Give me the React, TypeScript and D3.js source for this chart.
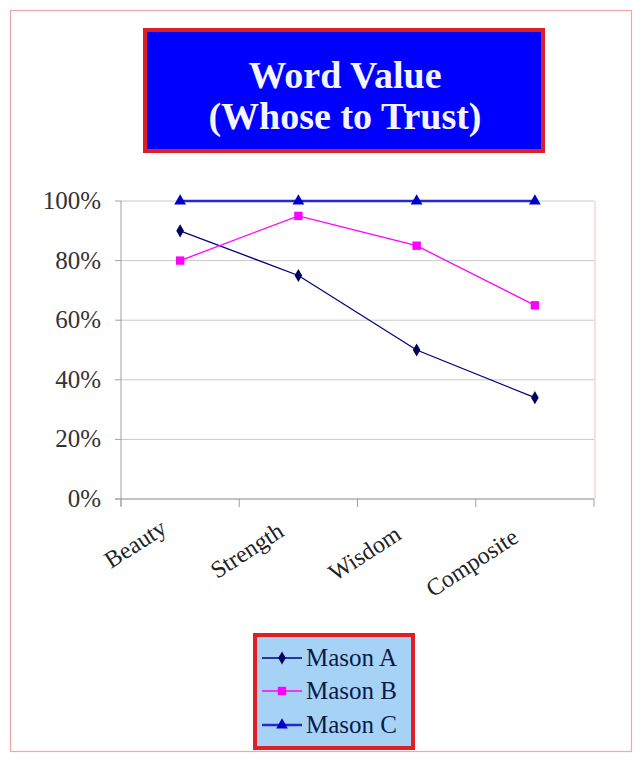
import React from "react";
import * as d3 from "d3";

const categories = ["Beauty", "Strength", "Wisdom", "Composite"];
const masonA = [0.9, 0.75, 0.5, 0.34];
const masonB = [0.8, 0.95, 0.85, 0.65];
const masonC = [1.0, 1.0, 1.0, 1.0];
const seriesNames = ["Mason A", "Mason B", "Mason C"];
const yTicks = [0, 0.2, 0.4, 0.6, 0.8, 1.0];

const W = 642;
const H = 761;
const FONT = "'Liberation Serif', 'Times New Roman', serif";

export default function App() {
  const x = d3.scaleBand<string>().domain(categories).range([121, 594]);
  const y = d3.scaleLinear().domain([0, 1]).range([499, 201]);
  const cx = (c: string) => (x(c) as number) + x.bandwidth() / 2;

  const series = [
    { name: seriesNames[0], values: masonA, color: "#000080", marker: "diamond", width: 1.3 },
    { name: seriesNames[1], values: masonB, color: "#ff00ff", marker: "square", width: 1.3 },
    { name: seriesNames[2], values: masonC, color: "#2828d0", marker: "triangle", width: 2.4 },
  ];
  const markerColor: Record<string, string> = {
    diamond: "#000060",
    square: "#ff00ff",
    triangle: "#0000cc",
  };
  const symbolType: Record<string, d3.SymbolType> = {
    diamond: d3.symbolDiamond,
    square: d3.symbolSquare,
    triangle: d3.symbolTriangle,
  };
  const symbolSize: Record<string, number> = { diamond: 50, square: 70, triangle: 60 };

  const line = d3
    .line<number>()
    .x((_, i) => cx(categories[i]))
    .y((d) => y(d));

  const fmt = d3.format(".0%");
  const ticksX = [...categories.map((c) => x(c) as number), 594];
  const legendY = [658, 691, 725];

  return (
    <svg
      width={W}
      height={H}
      style={{ position: "absolute", left: 0, top: 0, background: "#fff" }}
      fontFamily={FONT}
    >
      <rect x={0} y={0} width={W} height={H} fill="#ffffff" />
      <rect x={10.5} y={10.5} width={621} height={741} fill="none" stroke="#f2a6a6" strokeWidth={1.2} />

      {/* Title */}
      <rect x={145} y={30} width={398} height={121} fill="#0000ff" stroke="#e01e26" strokeWidth={4} />
      <text x={345} y={88} textAnchor="middle" fill="#f4f4ff" fontSize={38} fontWeight="bold">
        Word Value
      </text>
      <text x={345} y={129} textAnchor="middle" fill="#f4f4ff" fontSize={38} fontWeight="bold">
        (Whose to Trust)
      </text>

      {/* gridlines */}
      {yTicks.map((t) => (
        <line key={t} x1={121} x2={594} y1={y(t)} y2={y(t)} stroke="#c8c8c8" strokeWidth={1} />
      ))}
      <line x1={595} x2={595} y1={201} y2={499} stroke="#f4c0c0" strokeWidth={1} />
      {/* y axis */}
      <line x1={121} x2={121} y1={201} y2={506} stroke="#a0a0a0" strokeWidth={1} />
      {yTicks.map((t) => (
        <g key={"yt" + t}>
          <line x1={115} x2={121} y1={y(t)} y2={y(t)} stroke="#a0a0a0" />
          <text x={101} y={y(t) + 8} textAnchor="end" fontSize={25} fill="#333">
            {fmt(t)}
          </text>
        </g>
      ))}
      {/* x axis */}
      <line x1={115} x2={594} y1={499} y2={499} stroke="#a0a0a0" strokeWidth={1} />
      {ticksX.map((t, i) => (
        <line key={"xt" + i} x1={t} x2={t} y1={499} y2={507} stroke="#a0a0a0" />
      ))}
      {categories.map((c, i) => (
        <text
          key={c}
          transform={`translate(${cx(c) - 12 - i},${532 + i * 3}) rotate(-33)`}
          textAnchor="end"
          fontSize={24}
          fill="#222"
        >
          {c}
        </text>
      ))}

      {/* series */}
      {series.map((s) => (
        <g key={s.name}>
          <path d={line(s.values) as string} fill="none" stroke={s.color} strokeWidth={s.width} />
          {s.values.map((v, i) => (
            <path
              key={i}
              d={d3.symbol().type(symbolType[s.marker]).size(symbolSize[s.marker])() as string}
              transform={`translate(${cx(categories[i])},${y(v)})`}
              fill={markerColor[s.marker]}
            />
          ))}
        </g>
      ))}

      {/* legend */}
      <rect x={255} y={635} width={158} height={113} fill="#a6d2f6" stroke="#e01e26" strokeWidth={4} />
      {series.map((s, i) => {
        const ly = legendY[i];
        return (
          <g key={"lg" + s.name}>
            <line x1={262} x2={302} y1={ly} y2={ly} stroke={s.color} strokeWidth={s.width} />
            <path
              d={d3.symbol().type(symbolType[s.marker]).size(symbolSize[s.marker])() as string}
              transform={`translate(282,${ly})`}
              fill={markerColor[s.marker]}
            />
            <text x={306} y={ly + 8} fontSize={25} fill="#0a1a4a">
              {s.name}
            </text>
          </g>
        );
      })}
    </svg>
  );
}
